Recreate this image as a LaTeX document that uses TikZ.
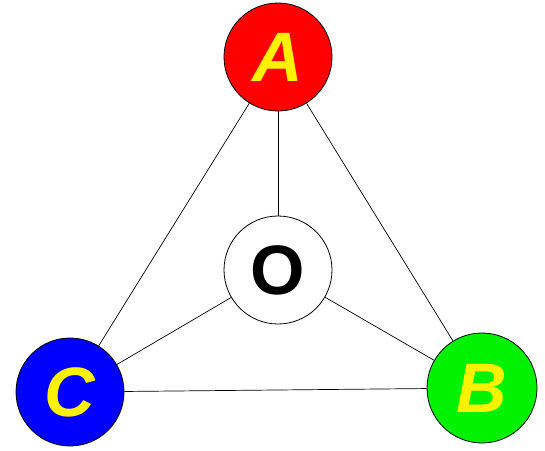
\documentclass[tikz,border=0pt]{standalone}
\usepackage{fontspec}
\setmainfont{Liberation Sans}
\begin{document}
\begin{tikzpicture}[x=1pt,y=-1pt,
  ball/.style={circle,draw=black,line width=0.8pt,minimum size=108pt,inner sep=0pt,
    font=\fontsize{70}{70}\selectfont\bfseries},
  lbl/.style={ball,text=yellow,font=\fontsize{70}{70}\selectfont\bfseries\itshape},
  link/.style={draw=black,line width=0.7pt}]
\useasboundingbox (0,0) rectangle (545,450);
\node[lbl,fill=red] (A) at (278,57) {A};
\node[ball,fill=white] (O) at (278,270) {O};
\node[lbl,fill=blue] (C) at (70,392) {C};
\node[lbl,fill=green!95!black,minimum size=110pt] (B) at (482,388) {B};
\draw[link] (A) -- (O);
\draw[link] (A) -- (C);
\draw[link] (A) -- (B);
\draw[link] (O) -- (C);
\draw[link] (O) -- (B);
\draw[link] (C) -- (B);
\end{tikzpicture}
\end{document}
